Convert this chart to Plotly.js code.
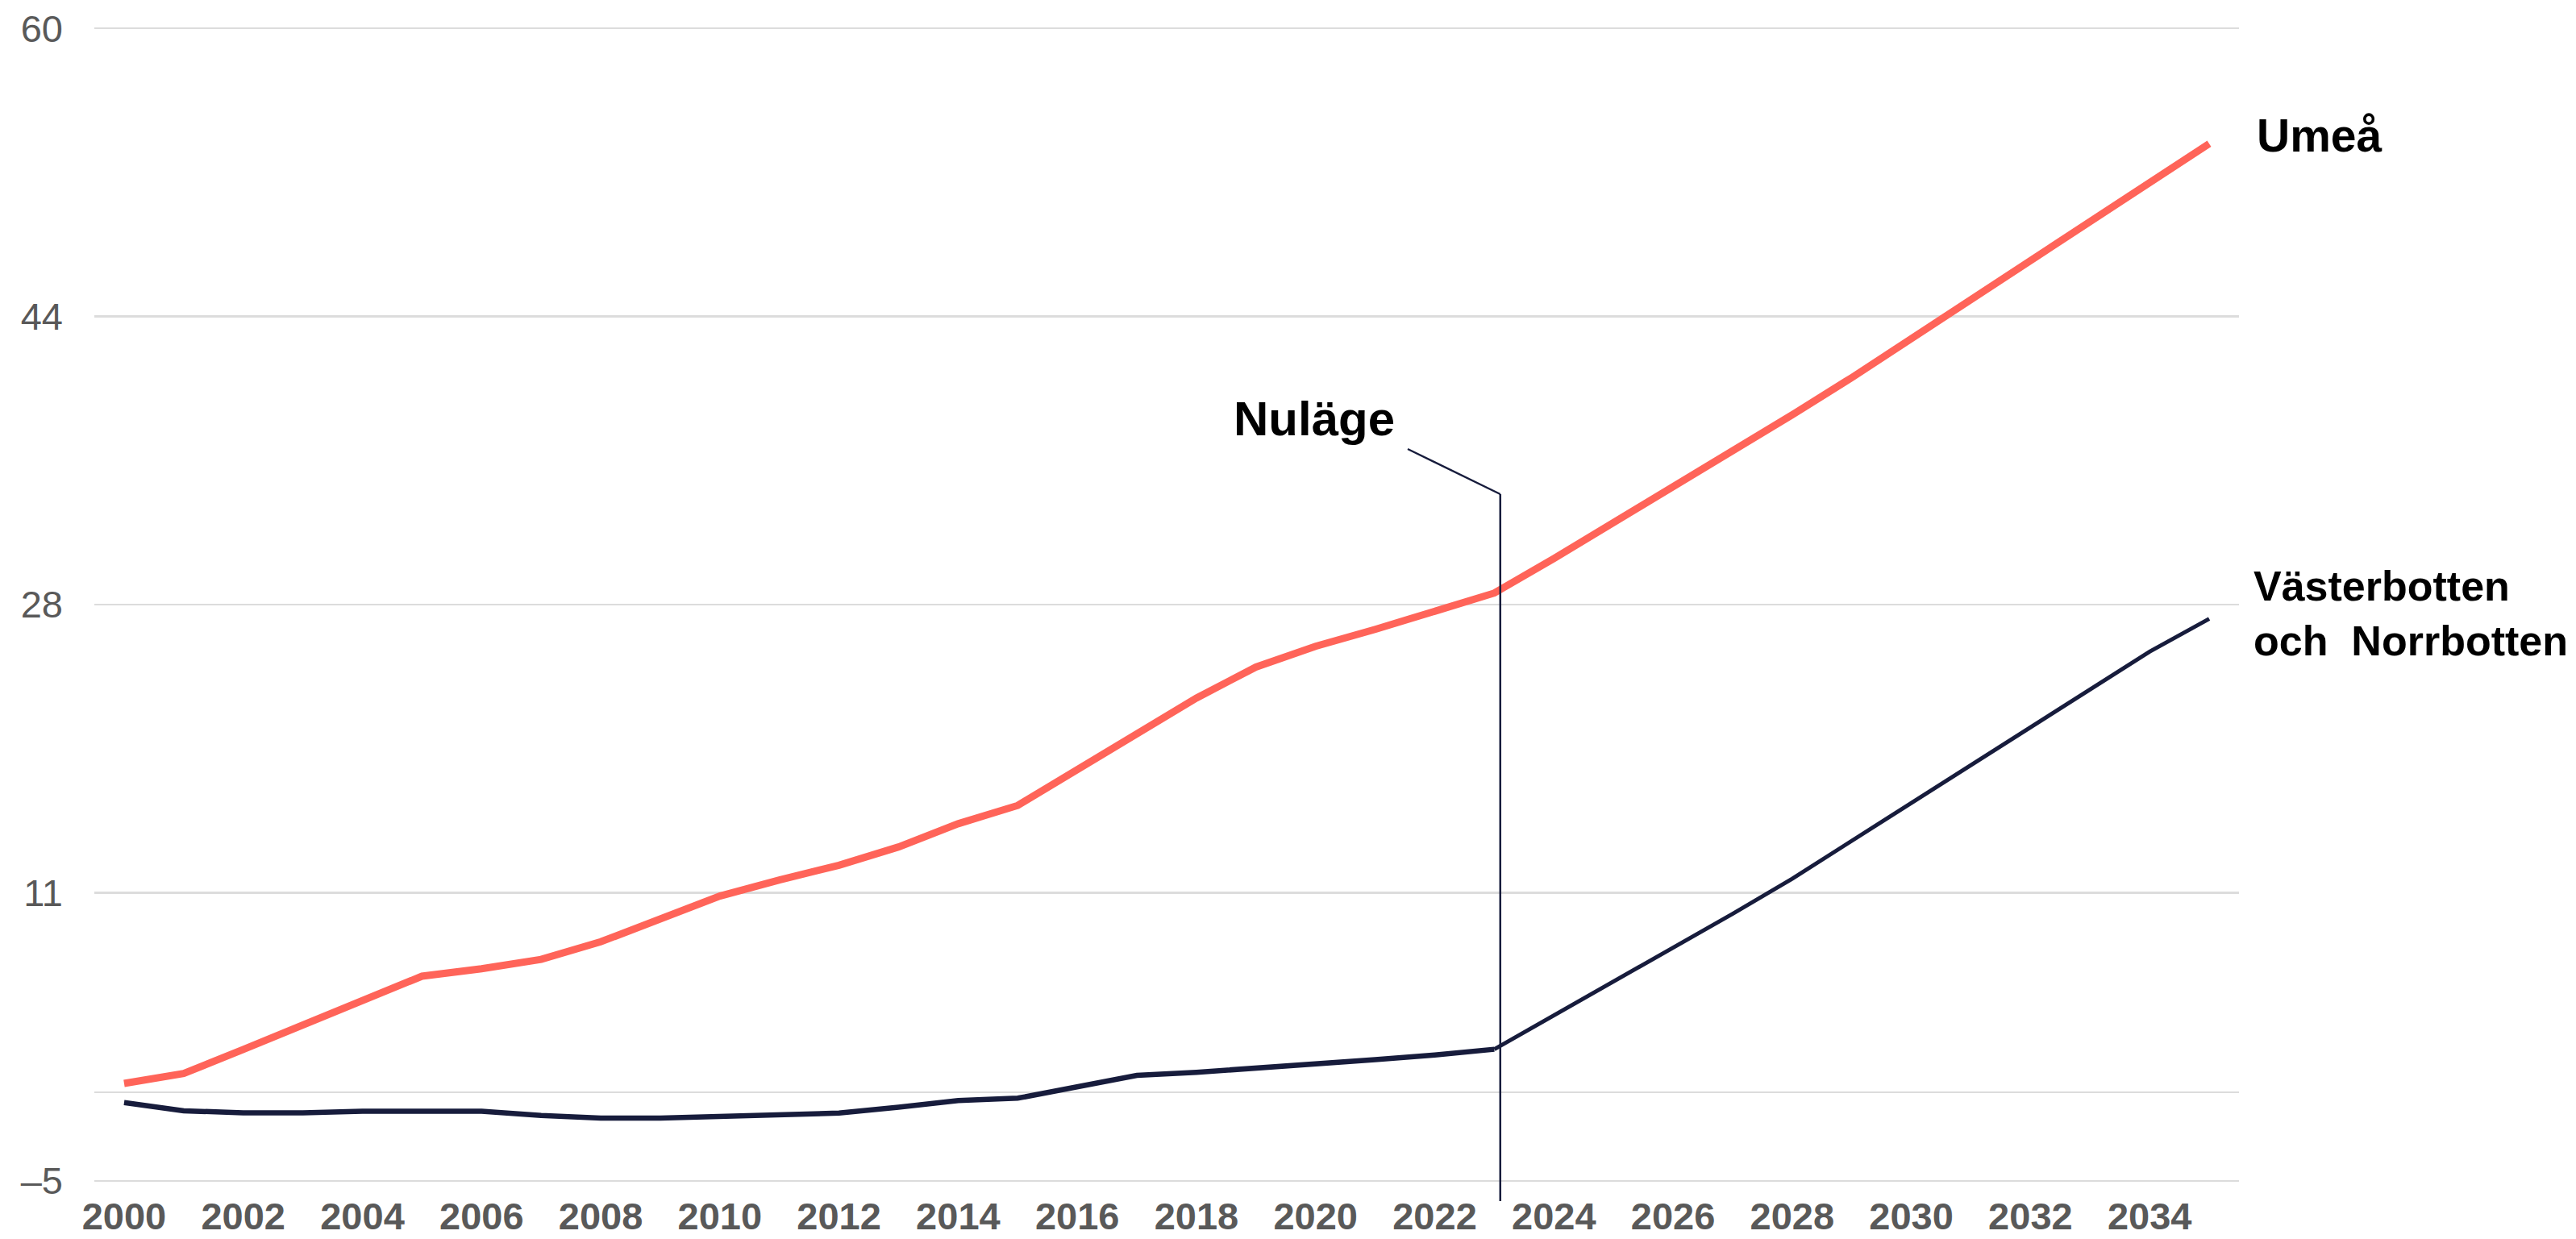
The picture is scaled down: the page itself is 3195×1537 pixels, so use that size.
<!DOCTYPE html>
<html>
<head>
<meta charset="utf-8">
<script src="https://cdn.plot.ly/plotly-3.0.1.min.js"></script>
<style>
  html, body { margin: 0; padding: 0; background: #ffffff; }
  #chart { width: 3195px; height: 1537px; }
</style>
</head>
<body>
<div id="chart"></div>
<script>
// ---- Data ----
const yearsAll = [2000,2001,2002,2003,2004,2005,2006,2007,2008,2009,2010,2011,2012,2013,2014,2015,2016,2017,
                  2018,2019,2020,2021,2022,2023,2024,2025,2026,2027,2028,2029,2030,2031,2032,2033,2034,2035];
const umea = [0.49,1.05,2.41,3.78,5.22,6.54,6.96,7.49,8.48,9.75,11.06,11.97,12.8,13.83,15.14,16.17,18.2,20.23,
              22.23,23.98,25.15,26.1,27.13,28.15,30.1,32.1,34.1,36.1,38.2,40.3,42.5,44.7,47.0,49.2,51.3,53.5];

const yearsHist = [2000,2001,2002,2003,2004,2005,2006,2007,2008,2009,2010,2011,2012,2013,2014,2015,2016,2017,
                   2018,2019,2020,2021,2022,2023];
const vnHist = [-0.59,-1.05,-1.17,-1.17,-1.08,-1.08,-1.08,-1.31,-1.46,-1.46,-1.38,-1.3,-1.18,-0.85,-0.47,-0.34,
                0.3,0.95,1.12,1.35,1.55,1.83,2.09,2.42];

const yearsProj = [2023,2024,2025,2026,2027,2028,2029,2030,2031,2032,2033,2034,2035];
const vnProj = [2.42,4.33,6.24,8.15,10.06,12.04,14.17,16.3,18.44,20.57,22.7,24.85,26.7];

const xTickVals = [2000,2002,2004,2006,2008,2010,2012,2014,2016,2018,2020,2022,2024,2026,2028,2030,2032,2034];
const yTickVals = [-5, 0, 11.25, 27.5, 43.75, 60];
const yTickText = ["\u20135", "", "11", "28", "44", "60"];

const nowYear = 2023.1;
const labelUmea = "Umeå";
const labelVN = "Västerbotten<br>och  Norrbotten";
const labelNow = "Nuläge";

// ---- Styling ----
const RED = "#ff6459";
const NAVY = "#171c3c";
const GRID = "#dcdcdc";
const TICK = "#595959";
const FONT = "Liberation Sans, Arial, sans-serif";

const xRange = [1999.5, 2035.5];
const yRange = [-5.1, 60.1];
const toPaperX = v => (v - xRange[0]) / (xRange[1] - xRange[0]);

const traces = [
  { x: yearsAll, y: umea, type: "scatter", mode: "lines",
    line: { color: RED, width: 9 }, hoverinfo: "skip" },
  { x: yearsHist, y: vnHist, type: "scatter", mode: "lines",
    line: { color: NAVY, width: 6.5 }, hoverinfo: "skip" },
  { x: yearsProj, y: vnProj, type: "scatter", mode: "lines",
    line: { color: NAVY, width: 5 }, hoverinfo: "skip" }
];

const nowX = toPaperX(nowYear);
// paper-y helper based on plot box (top 33, bottom 1467)
const pY = px => (1467 - px) / (1467 - 33);

const layout = {
  width: 3195, height: 1537,
  paper_bgcolor: "#ffffff", plot_bgcolor: "#ffffff",
  margin: { l: 117, r: 418, t: 33, b: 70, pad: 0 },
  showlegend: false,
  hovermode: false,
  font: { family: FONT, color: TICK },
  xaxis: {
    range: xRange, tickmode: "array", tickvals: xTickVals,
    showgrid: false, zeroline: false, showline: false, ticks: "",
    tickfont: { family: FONT, size: 47, color: TICK, weight: "bold" },
    ticklabelstandoff: 10,
    automargin: false, fixedrange: true
  },
  yaxis: {
    range: yRange, tickmode: "array", tickvals: yTickVals, ticktext: yTickText,
    showgrid: true, gridcolor: GRID, gridwidth: 2.5,
    zeroline: false, showline: false, ticks: "",
    tickfont: { family: FONT, size: 47, color: TICK },
    ticklabelstandoff: 38,
    automargin: false, fixedrange: true
  },
  shapes: [
    { type: "line", xref: "paper", yref: "paper",
      x0: nowX, x1: nowX, y0: pY(613), y1: pY(1490),
      line: { color: NAVY, width: 2.5 } },
    { type: "line", xref: "paper", yref: "paper",
      x0: 0.6124, y0: pY(557), x1: nowX, y1: pY(613),
      line: { color: NAVY, width: 2.5 } }
  ],
  annotations: [
    { text: labelNow, xref: "paper", yref: "paper", x: 0.5305, y: pY(519),
      xanchor: "left", yanchor: "middle", showarrow: false,
      font: { family: FONT, size: 60, color: "#000000", weight: "bold" } },
    { text: labelUmea, xref: "paper", yref: "paper", x: 1.0076, y: pY(168),
      xanchor: "left", yanchor: "middle", showarrow: false,
      font: { family: FONT, size: 57, color: "#000000", weight: "bold" } },
    { text: labelVN, xref: "paper", yref: "paper", x: 1.0060, y: pY(761),
      xanchor: "left", yanchor: "middle", align: "left", showarrow: false,
      font: { family: FONT, size: 52, color: "#000000", weight: "bold" } }
  ]
};

Plotly.newPlot("chart", traces, layout, { staticPlot: true, displayModeBar: false });
</script>
</body>
</html>
